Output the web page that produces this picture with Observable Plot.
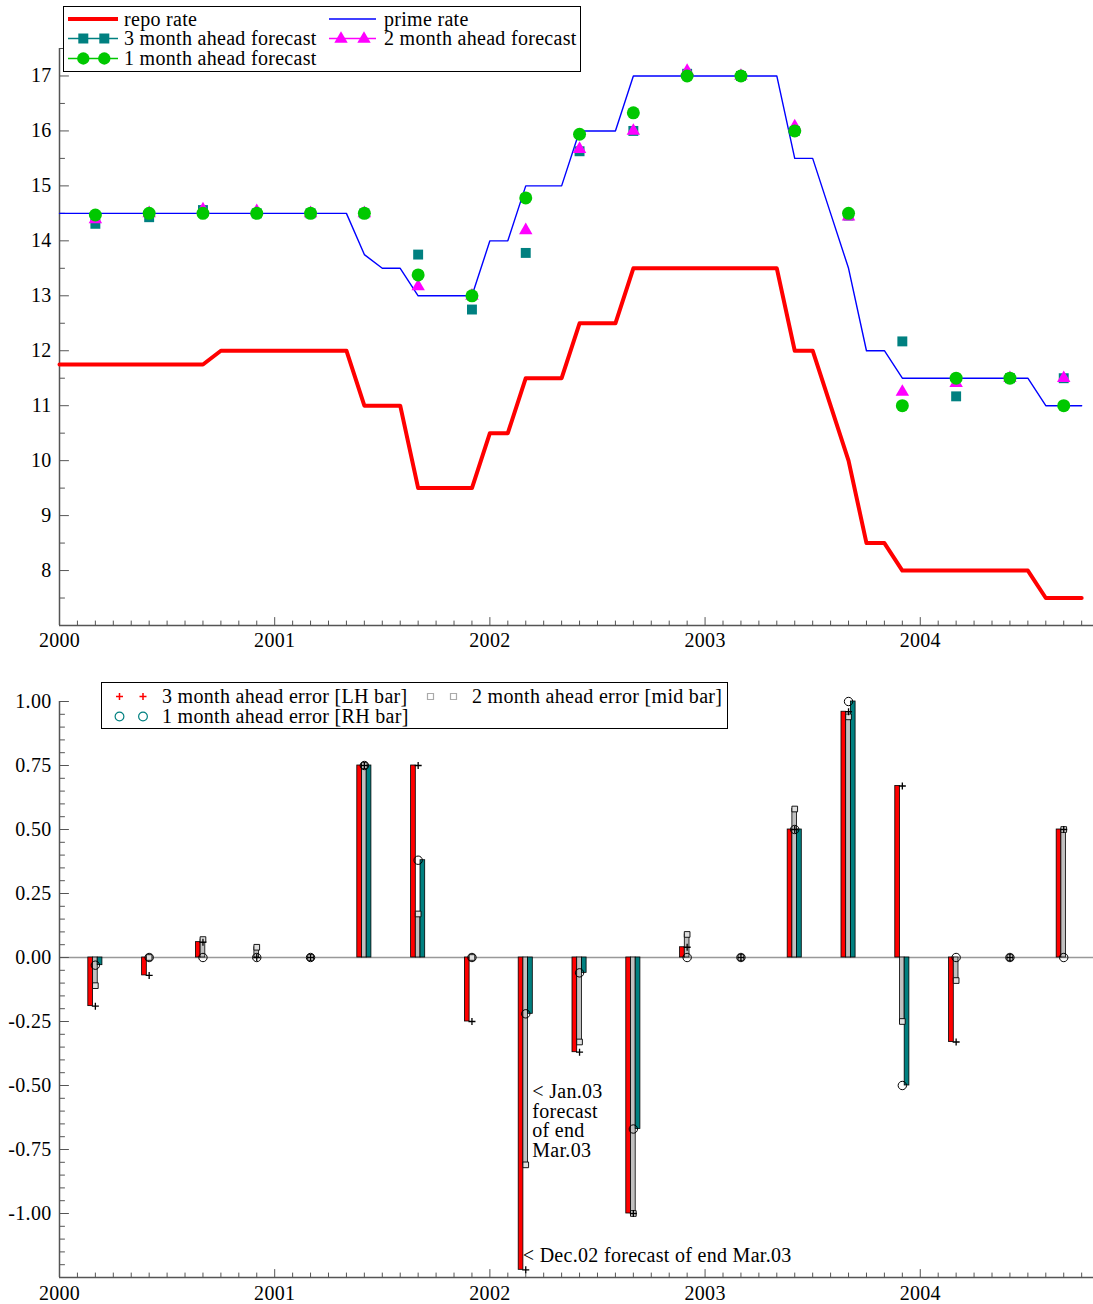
<!DOCTYPE html>
<html>
<head>
<meta charset="utf-8">
<script src="https://cdn.jsdelivr.net/npm/d3@7"></script>
<script src="https://cdn.jsdelivr.net/npm/@observablehq/plot@0.6"></script>
<style>
  html, body { margin: 0; padding: 0; background: #fff; }
  #wrap { position: relative; width: 1093px; height: 1304px; overflow: hidden; }
  #wrap > * { position: absolute; }
</style>
</head>
<body>
<div id="wrap"></div>
<script>
// ---------------- DATA ----------------
const rateStart = "2000-01"; // monthly series start
// SA repo rate, monthly Jan 2000 - Oct 2004
const repoRate = [
  11.75, 11.75, 11.75, 11.75, 11.75, 11.75, 11.75, 11.75, 11.75, 12, 12, 12,
  12, 12, 12, 12, 12, 11, 11, 11, 9.5, 9.5, 9.5, 9.5,
  10.5, 10.5, 11.5, 11.5, 11.5, 12.5, 12.5, 12.5, 13.5, 13.5, 13.5, 13.5,
  13.5, 13.5, 13.5, 13.5, 13.5, 12, 12, 11, 10, 8.5, 8.5, 8,
  8, 8, 8, 8, 8, 8, 8, 7.5, 7.5, 7.5
];
// prime rate, monthly Jan 2000 - Oct 2004
const primeRate = [
  14.5, 14.5, 14.5, 14.5, 14.5, 14.5, 14.5, 14.5, 14.5, 14.5, 14.5, 14.5,
  14.5, 14.5, 14.5, 14.5, 14.5, 13.75, 13.5, 13.5, 13, 13, 13, 13,
  14, 14, 15, 15, 15, 16, 16, 16, 17, 17, 17, 17,
  17, 17, 17, 17, 17, 15.5, 15.5, 14.5, 13.5, 12, 12, 11.5,
  11.5, 11.5, 11.5, 11.5, 11.5, 11.5, 11.5, 11, 11, 11
];
// quarterly forecast dates
const forecastMonths = [
  "2000-03", "2000-06", "2000-09", "2000-12",
  "2001-03", "2001-06", "2001-09", "2001-12",
  "2002-03", "2002-06", "2002-09", "2002-12",
  "2003-03", "2003-06", "2003-09", "2003-12",
  "2004-03", "2004-06", "2004-09"
];
const forecast3m = [14.31, 14.43, 14.56, 14.5, 14.5, 14.5, 13.75, 12.75, 13.78, 15.63, 16.0, 17.04, 17.0, 16.0, 14.46, 12.17, 11.17, 11.5, 11.5];
const forecast2m = [14.39, 14.5, 14.57, 14.54, 14.5, 14.5, 13.17, 13.0, 14.19, 15.67, 16.0, 17.09, 17.0, 16.08, 14.44, 11.25, 11.41, 11.5, 11.5];
const forecast1m = [14.47, 14.5, 14.5, 14.5, 14.5, 14.5, 13.38, 13.0, 14.78, 15.94, 16.33, 17.0, 17.0, 16.0, 14.5, 11.0, 11.5, 11.5, 11.0];
// forecast errors (forecast - actual prime)
const error3m = [-0.19, -0.07, 0.06, 0, 0, 0.75, 0.75, -0.25, -1.22, -0.37, -1.0, 0.04, 0, 0.5, 0.96, 0.67, -0.33, 0, 0.5];
const error2m = [-0.11, 0, 0.07, 0.04, 0, 0.75, 0.17, 0, -0.81, -0.33, -1.0, 0.09, 0, 0.58, 0.94, -0.25, -0.09, 0, 0.5];
const error1m = [-0.03, 0, 0, 0, 0, 0.75, 0.38, 0, -0.22, -0.06, -0.67, 0, 0, 0.5, 1.0, -0.5, 0, 0, 0];

const yearTicks = [2000, 2001, 2002, 2003, 2004];
const topYLabels = [8, 9, 10, 11, 12, 13, 14, 15, 16, 17];
const bottomYLabels = [-1.0, -0.75, -0.5, -0.25, 0, 0.25, 0.5, 0.75, 1.0];

const noteJan = "< Jan.03\nforecast\nof end\nMar.03";
const noteDec = "< Dec.02 forecast of end Mar.03";
const noteMonth = "2002-03";
const noteJanY = -0.64;
const noteDecY = -1.164;

const legendTop = ["repo rate", "prime rate", "3 month ahead forecast", "2 month ahead forecast", "1 month ahead forecast"];
const legendBottom = ["3 month ahead error [LH bar]", "2 month ahead error [mid bar]", "1 month ahead error [RH bar]"];

// ---------------- HELPERS ----------------
const FONT = '"Liberation Serif", "Times New Roman", serif';
const FS = 20;
const LS = "0.3px";
const AXIS = "#555";
const toYear = s => { const [y, m] = s.split("-").map(Number); return y + (m - 1) / 12; };
const [y0, m0] = rateStart.split("-").map(Number);
const rates = repoRate.map((r, i) => ({x: y0 + (m0 - 1 + i) / 12, repo: r, prime: primeRate[i]}));
const fc = forecastMonths.map((m, i) => ({
  x: toYear(m), f3: forecast3m[i], f2: forecast2m[i], f1: forecast1m[i],
  e3: error3m[i], e2: error2m[i], e1: error1m[i]
}));
const xDomain = [2000, 2004.805];
const monthTicks = d3.range(0, 58).map(i => 2000 + i / 12);
const minorMonth = monthTicks.filter((d, i) => i % 12 !== 0);
const majorMonth = monthTicks.filter((d, i) => i % 12 === 0);
const tickShape = {draw(ctx, l) { ctx.moveTo(0, 0); ctx.lineTo(0, -l); }};

function axisTicks(yBase, yMajor, yMinor, xMajorLen, xMinorLen, yMajorLen, yMinorLen) {
  return [
    Plot.vector(minorMonth, {x: d => d, y: yBase, length: xMinorLen, anchor: "start", shape: tickShape, stroke: AXIS, strokeWidth: 1}),
    Plot.vector(majorMonth, {x: d => d, y: yBase, length: xMajorLen, anchor: "start", shape: tickShape, stroke: AXIS, strokeWidth: 1}),
    Plot.vector(yMinor, {x: 2000, y: d => d, rotate: 90, length: yMinorLen, anchor: "start", shape: tickShape, stroke: AXIS, strokeWidth: 1}),
    Plot.vector(yMajor, {x: 2000, y: d => d, rotate: 90, length: yMajorLen, anchor: "start", shape: tickShape, stroke: AXIS, strokeWidth: 1}),
    Plot.ruleX([2000], {stroke: AXIS, strokeWidth: 1.5}),
    Plot.ruleY([yBase], {stroke: AXIS, strokeWidth: 1.5})
  ];
}

const wrap = document.getElementById("wrap");
const chartStyle = {fontFamily: FONT, fontSize: FS + "px", letterSpacing: LS, color: "#000", background: "transparent", overflow: "visible"};

// ---------------- TOP CHART ----------------
const topMinorY = d3.range(7.5, 17.6, 1);
const topChart = Plot.plot({
  width: 1093, height: 660,
  marginLeft: 59, marginRight: 0, marginTop: 48, marginBottom: 35,
  style: chartStyle,
  x: {domain: xDomain},
  y: {domain: [7, 17.5]},
  marks: [
    ...axisTicks(7, topYLabels, topMinorY, 8, 4.5, 9, 5),
    Plot.line(rates, {x: "x", y: "repo", stroke: "#ff0000", strokeWidth: 4}),
    Plot.line(rates, {x: "x", y: "prime", stroke: "#0000ff", strokeWidth: 1.4}),
    Plot.dot(fc, {x: "x", y: "f3", symbol: "square", fill: "#008080", r: 5.6}),
    Plot.dot(fc, {x: "x", y: "f2", symbol: "triangle", fill: "#ff00ff", r: 5}),
    Plot.dot(fc, {x: "x", y: "f1", symbol: "circle", fill: "#00c800", r: 6.5}),
    Plot.axisX({ticks: yearTicks, tickSize: 0, tickPadding: 7, tickFormat: d => String(d), label: null, fontSize: FS}),
    Plot.axisY({ticks: topYLabels, tickSize: 0, tickPadding: 8, tickFormat: d => String(d), label: null, fontSize: FS})
  ]
});
topChart.style.left = "0px"; topChart.style.top = "0px";
wrap.appendChild(topChart);

// ---------------- BOTTOM CHART ----------------
const botMinorY = d3.range(-24, 21).filter(i => i % 5 !== 0).map(i => i * 0.05);
const botMajorY = [-1.0, -0.75, -0.5, -0.25, 0, 0.25, 0.5, 0.75, 1.0];
const barW = 4.7;
const bottomChart = Plot.plot({
  width: 1093, height: 644,
  marginLeft: 59, marginRight: 0, marginTop: 41, marginBottom: 27,
  style: chartStyle,
  x: {domain: xDomain},
  y: {domain: [-1.25, 1.0]},
  marks: [
    Plot.ruleY([0], {stroke: "#999", strokeWidth: 1.5}),
    ...axisTicks(-1.25, botMajorY, botMinorY, 8, 4.5, 9, 5),
    Plot.rect(fc, {x1: "x", x2: "x", y1: 0, y2: "e3", fill: "#ff0000", stroke: "#000", strokeWidth: 0.8,
      insetLeft: -barW / 2, insetRight: -barW / 2, dx: -barW}),
    Plot.rect(fc, {x1: "x", x2: "x", y1: 0, y2: "e2", fill: "#c0c0c0", stroke: "#000", strokeWidth: 0.8,
      insetLeft: -barW / 2, insetRight: -barW / 2}),
    Plot.rect(fc, {x1: "x", x2: "x", y1: 0, y2: "e1", fill: "#008080", stroke: "#000", strokeWidth: 0.8,
      insetLeft: -barW / 2, insetRight: -barW / 2, dx: barW}),
    Plot.dot(fc, {x: "x", y: "e2", symbol: "square", r: 3.2, stroke: "#000", strokeWidth: 0.9, fill: "#e0e0e0"}),
    Plot.dot(fc, {x: "x", y: "e1", symbol: "circle", r: 4.2, stroke: "#000", strokeWidth: 1, fill: "none"}),
    Plot.dot(fc, {x: "x", y: "e3", symbol: "plus", r: 2.4, stroke: "#000", strokeWidth: 1.3}),
    Plot.text([noteJan], {x: toYear(noteMonth), y: noteJanY, text: d => d, textAnchor: "start", dx: 6.5,
      fontSize: FS, lineHeight: 0.98, fill: "#000"}),
    Plot.text([noteDec], {x: toYear(noteMonth), y: noteDecY, text: d => d, textAnchor: "start", dx: -3,
      fontSize: FS, fill: "#000"}),
    Plot.axisX({ticks: yearTicks, tickSize: 0, tickPadding: 8, tickFormat: d => String(d), label: null, fontSize: FS}),
    Plot.axisY({ticks: bottomYLabels, tickSize: 0, tickPadding: 8, tickFormat: d => d.toFixed(2), label: null, fontSize: FS})
  ]
});
bottomChart.style.left = "0px"; bottomChart.style.top = "660px";
wrap.appendChild(bottomChart);

// ---------------- LEGENDS ----------------
function makeLegend(left, top, w, h) {
  const svg = d3.create("svg").attr("width", w + 1).attr("height", h + 1)
    .style("left", left + "px").style("top", top + "px")
    .style("font-family", FONT).style("font-size", FS + "px").style("letter-spacing", LS);
  svg.append("rect").attr("x", 0.5).attr("y", 0.5).attr("width", w).attr("height", h)
    .attr("fill", "#fff").attr("stroke", "#000").attr("stroke-width", 1);
  wrap.appendChild(svg.node());
  return svg;
}
function sym(svg, type, size, x, y, attrs) {
  const p = svg.append("path").attr("d", d3.symbol(type, size)()).attr("transform", `translate(${x},${y})`);
  for (const k in attrs) p.attr(k, attrs[k]);
}
function txt(svg, x, y, s) {
  svg.append("text").attr("x", x).attr("y", y).attr("fill", "#000").text(s);
}
function seg(svg, x1, x2, y, color, w) {
  svg.append("line").attr("x1", x1).attr("x2", x2).attr("y1", y).attr("y2", y).attr("stroke", color).attr("stroke-width", w);
}

// top legend
{
  const g = makeLegend(63, 6, 517, 65);
  seg(g, 5, 55, 13, "#ff0000", 4); txt(g, 61, 19.5, legendTop[0]);
  seg(g, 266, 313, 13, "#0000ff", 1.3); txt(g, 321, 19.5, legendTop[1]);
  seg(g, 5, 55, 32.5, "#008080", 1.3);
  sym(g, d3.symbolSquare, 100, 20.3, 32.5, {fill: "#008080"});
  sym(g, d3.symbolSquare, 100, 41.3, 32.5, {fill: "#008080"});
  txt(g, 61, 39, legendTop[2]);
  seg(g, 266, 313, 32.5, "#ff00ff", 1.3);
  sym(g, d3.symbolTriangle, 78, 278, 33, {fill: "#ff00ff"});
  sym(g, d3.symbolTriangle, 78, 301, 33, {fill: "#ff00ff"});
  txt(g, 321, 39, legendTop[3]);
  seg(g, 5, 55, 52.5, "#00c800", 1.3);
  sym(g, d3.symbolCircle, 120, 20.3, 52.5, {fill: "#00c800"});
  sym(g, d3.symbolCircle, 120, 41.3, 52.5, {fill: "#00c800"});
  txt(g, 61, 58.5, legendTop[4]);
}
// bottom legend
{
  const g = makeLegend(100.5, 682, 626, 46);
  sym(g, d3.symbolPlus, 18, 18.5, 14.5, {fill: "none", stroke: "#ff0000", "stroke-width": 1.5});
  sym(g, d3.symbolPlus, 18, 42, 14.5, {fill: "none", stroke: "#ff0000", "stroke-width": 1.5});
  txt(g, 61, 21, legendBottom[0]);
  sym(g, d3.symbolSquare, 36, 329.5, 14.5, {fill: "#fff", stroke: "#aaa", "stroke-width": 1.2});
  sym(g, d3.symbolSquare, 36, 352.5, 14.5, {fill: "#fff", stroke: "#aaa", "stroke-width": 1.2});
  txt(g, 371, 21, legendBottom[1]);
  sym(g, d3.symbolCircle, 60, 18.5, 34.5, {fill: "none", stroke: "#008080", "stroke-width": 1.2});
  sym(g, d3.symbolCircle, 60, 42, 34.5, {fill: "none", stroke: "#008080", "stroke-width": 1.2});
  txt(g, 61, 41, legendBottom[2]);
}
</script>
</body>
</html>
